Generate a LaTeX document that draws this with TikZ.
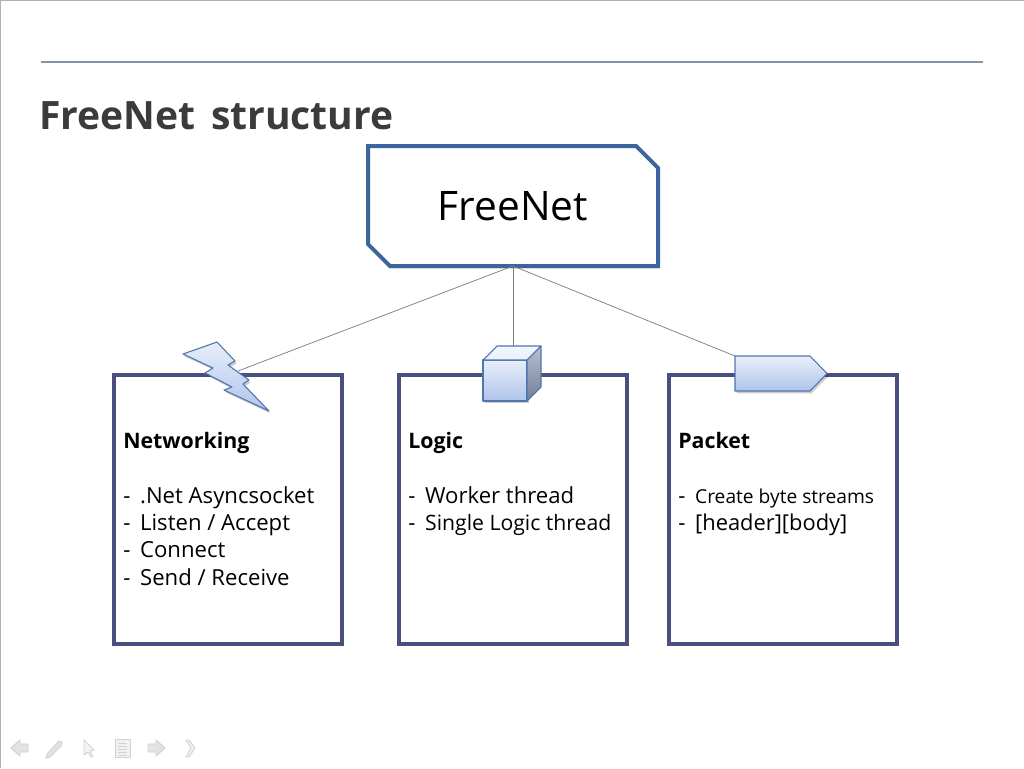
\documentclass[tikz,border=0pt]{standalone}
\usepackage{fontspec}
\setmainfont{Open Sans}
\usetikzlibrary{shapes.misc,shadows,calc}
\definecolor{titlegray}{HTML}{3B3B3D}
\definecolor{rulecol}{HTML}{8593A8}
\definecolor{framecol}{HTML}{3D659D}
\definecolor{cardcol}{HTML}{4A4F80}
\definecolor{iconline}{HTML}{4F75AE}
\definecolor{icontop}{HTML}{E9EFFA}
\definecolor{iconbot}{HTML}{AFC3EA}
\definecolor{navcol}{HTML}{E3E3E3}
\definecolor{navline}{HTML}{D2D2D2}
\newcommand{\dashitem}{-\hspace{3pt} }
\newcommand{\headline}[1]{{\fontsize{16}{20.5}\selectfont\bfseries #1}}
\tikzset{
  softshadow/.style={drop shadow={shadow xshift=1.2pt,shadow yshift=-1.8pt,opacity=.2,fill=black}},
  mainbox/.style={chamfered rectangle,chamfered rectangle corners={north east,south west},
    chamfered rectangle xsep=8.2pt,chamfered rectangle ysep=8.2pt,
    draw=framecol,line width=3pt,fill=white,inner sep=0pt,outer sep=0pt,
    minimum width=217.5pt,minimum height=90pt,font=\fontsize{30.5}{36}\selectfont,text=black,softshadow},
  card/.style={rectangle,draw=cardcol,line width=2.4pt,fill=white,inner sep=0pt,outer sep=0pt,
    minimum width=171pt,minimum height=201.75pt,softshadow},
  cardtext/.style={anchor=north west,inner sep=0pt,align=left,text=black,
    font=\fontsize{16.6}{20.5}\selectfont},
  wire/.style={draw=black!50,line width=.55pt},
  iconshape/.style={draw=iconline,line width=.8pt,line join=round,top color=icontop,bottom color=iconbot},
  navshape/.style={draw=navline,line width=.7pt,fill=navcol,line join=round},
}
\begin{document}
\begin{tikzpicture}[x=.75pt,y=-.75pt]
\useasboundingbox (0,0) rectangle (1024,768);
\fill[white] (0,0) rectangle (1024,768);
% screenshot edges
\coordinate (tl) at (0.5,0.5);
\coordinate (tr) at (1024,0.5);
\coordinate (bl) at (0.5,768);
\draw[black!30,line width=.75pt] (bl) -- (tl) -- (tr);
% rule and title
\coordinate (ruleA) at (41,62);
\coordinate (ruleB) at (983,62);
\draw[rulecol,line width=1.2pt] (ruleA) -- (ruleB);
\node[anchor=base west,inner sep=0pt,text=titlegray,font=\fontsize{29.3}{34}\selectfont\bfseries] (title) at (39,129) {FreeNet\hspace{4pt} structure};
% cards
\node[card] (net) at (228,509.5) {};
\node[card] (logic) at (513,509.5) {};
\node[card] (packet) at (783,509.5) {};
\node[cardtext] (nettext) at (123,432) {\headline{Networking}\\[0pt] \\\dashitem .Net Asyncsocket\\\dashitem Listen / Accept\\\dashitem Connect\\\dashitem Send / Receive};
\node[cardtext] (logictext) at (408,432) {\headline{Logic}\\[0pt] \\\dashitem Worker thread\\\dashitem {\fontsize{15.9}{20.5}\selectfont Single Logic thread}};
\node[cardtext] (packettext) at (678,432) {\headline{Packet}\\[0pt] \\\dashitem {\fontsize{14.4}{20.5}\selectfont Create byte streams}\\\dashitem {\fontsize{16.4}{20.5}\selectfont [header][body]}};
% main box
\node[mainbox] (free) at (513,206) {FreeNet};
% icon anchors
\coordinate (boltTop) at (238,371);
\coordinate (cubeTop) at (513,346);
\coordinate (tagTop) at (735,356);
% connectors
\draw[wire] (free.south) -- (boltTop);
\draw[wire] (free.south) -- (cubeTop);
\draw[wire] (free.south) -- (tagTop);
% bolt
\path[iconshape,softshadow] (183,354) -- (217,342) -- (235,361) -- (228,365) -- (249,380) -- (243,384) -- (269,411)
  -- (224,390) -- (232,387) -- (205,373) -- (213,368) -- cycle;
% cube
\path[iconshape,softshadow] (483,360) -- (527,360) -- (527,401) -- (483,401) -- cycle;
\path[draw=iconline,line width=.8pt,line join=round,top color=icontop!60!white,bottom color=icontop] (483,360) -- (497,346) -- (541,346) -- (527,360) -- cycle;
\path[draw=iconline,line width=.8pt,line join=round,top color=black!20!icontop!70!iconbot,bottom color=black!35!iconbot] (527,360) -- (541,346) -- (541,387) -- (527,401) -- cycle;
% pentagon
\path[iconshape,softshadow] (735,356) -- (810,356) -- (827,373.5) -- (810,391) -- (735,391) -- cycle;
% navigation icons
\path[navshape] (11,748) -- (20,740) -- (20,744) -- (28,744) -- (28,752) -- (20,752) -- (20,756) -- cycle;
\path[navshape] (47,754) -- (59,741) -- (62,742) -- (62,745) -- (50,757) -- (46,758) -- cycle;
\path[navshape,fill=white!60!navcol] (84,740) -- (94,750) -- (90,751) -- (93,757) -- (91,757) -- (88,752) -- (84,755) -- cycle;
\path[navshape,fill=white!50!navcol] (115,739) rectangle (130,757);
\foreach \yy in {743,746,749,752,755}{\draw[navline,line width=.6pt] (118,\yy) -- (127,\yy);}
\path[navshape] (165,748) -- (156,740) -- (156,744) -- (148,744) -- (148,752) -- (156,752) -- (156,756) -- cycle;
\path[navshape,fill=white!50!navcol] (186,740) -- (189,740) -- (195,748) -- (189,757) -- (186,757) -- (191,748) -- cycle;
\end{tikzpicture}
\end{document}
